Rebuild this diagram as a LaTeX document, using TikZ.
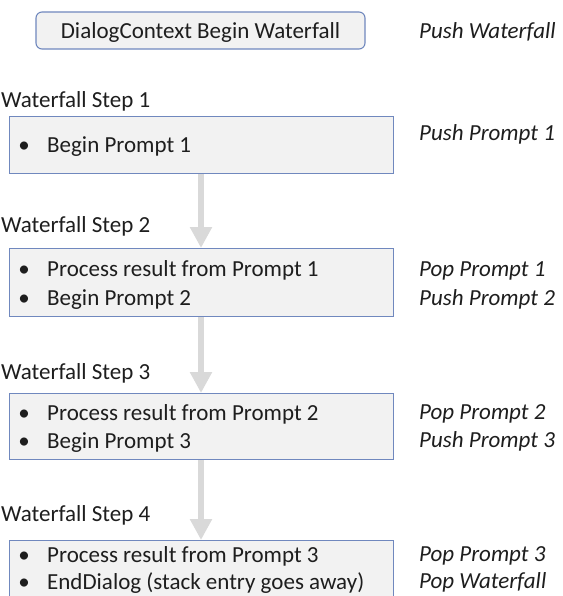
\documentclass[tikz,border=0pt]{standalone}
\usepackage{fontspec}
\setmainfont{Carlito}
\usetikzlibrary{arrows.meta}
\definecolor{boxline}{RGB}{112,136,190}
\definecolor{boxfill}{RGB}{242,242,242}
\definecolor{arrowgray}{RGB}{217,217,217}
\definecolor{txt}{RGB}{30,30,30}
\begin{document}
\begin{tikzpicture}[x=1pt,y=-1pt,
  every node/.style={font=\fontsize{23}{28}\selectfont, text=txt, inner sep=0pt, text height=16pt, text depth=0pt},
  stepbox/.style={draw=boxline, fill=boxfill, line width=1.1pt, minimum width=384pt, anchor=north west, text height=, text depth=},
  startbox/.style={draw=boxline, fill=boxfill, line width=1.1pt, rounded corners=6pt, minimum width=329pt, minimum height=37pt},
  steplabel/.style={anchor=west},
  bulletmark/.style={anchor=center},
  itemtext/.style={anchor=west},
  stacknote/.style={anchor=west, font=\fontsize{23}{28}\selectfont\itshape},
  flow/.style={draw=arrowgray, line width=6.5pt, -{Triangle[width=21pt,length=21pt]}}
]
\useasboundingbox (0,0) rectangle (562,596);
\clip (0,0) rectangle (562,596);
\fill[white] (0,0) rectangle (562,596);
\coordinate (ax) at (201,0);

% arrows drawn first (boxes cover their start)
\node[stepbox, minimum height=57pt] (b1) at (9,116) {};
\node[stepbox, minimum height=68pt] (b2) at (9,248) {};
\node[stepbox, minimum height=66pt] (b3) at (9,393) {};
\node[stepbox, minimum height=80pt] (b4) at (9,540) {};
\draw[flow] (b1.south -| ax) -- (b2.north -| ax);
\draw[flow] (b2.south -| ax) -- (b3.north -| ax);
\draw[flow] (b3.south -| ax) -- (b4.north -| ax);
\node[stepbox, minimum height=57pt] at (9,116) {};
\node[stepbox, minimum height=68pt] at (9,248) {};
\node[stepbox, minimum height=66pt] at (9,393) {};
\node[stepbox, minimum height=80pt] at (9,540) {};

% start
\node[startbox] (start) at (200.5,30.5) {DialogContext Begin Waterfall};
\node[stacknote] (n0) at (419,31) {Push Waterfall};

% step labels
\node[steplabel] (l1) at (1,100) {Waterfall Step 1};
\node[steplabel] (l2) at (1,224) {Waterfall Step 2};
\node[steplabel] (l3) at (1,371) {Waterfall Step 3};
\node[steplabel] (l4) at (1,513) {Waterfall Step 4};

% box 1
\node[bulletmark] (p1) at (24,145) {•};
\node[itemtext] (t1) at (47,145) {Begin Prompt 1};
\node[stacknote] (n1) at (419,133) {Push Prompt 1};

% box 2
\node[bulletmark] (p2a) at (24,268) {•};
\node[itemtext] (t2a) at (47,268) {Process result from Prompt 1};
\node[bulletmark] (p2b) at (24,297) {•};
\node[itemtext] (t2b) at (47,297) {Begin Prompt 2};
\node[stacknote] (n2a) at (419,268) {Pop Prompt 1};
\node[stacknote] (n2b) at (419,297) {Push Prompt 2};

% box 3
\node[bulletmark] (p3a) at (24,412) {•};
\node[itemtext] (t3a) at (47,412) {Process result from Prompt 2};
\node[bulletmark] (p3b) at (24,440) {•};
\node[itemtext] (t3b) at (47,440) {Begin Prompt 3};
\node[stacknote] (n3a) at (419,411) {Pop Prompt 2};
\node[stacknote] (n3b) at (419,439) {Push Prompt 3};

% box 4
\node[bulletmark] (p4a) at (24,554) {•};
\node[itemtext] (t4a) at (47,554) {Process result from Prompt 3};
\node[bulletmark] (p4b) at (24,581) {•};
\node[itemtext] (t4b) at (47,581) {EndDialog (stack entry goes away)};
\node[stacknote] (n4a) at (419,553) {Pop Prompt 3};
\node[stacknote] (n4b) at (419,580) {Pop Waterfall};
\end{tikzpicture}
\end{document}
